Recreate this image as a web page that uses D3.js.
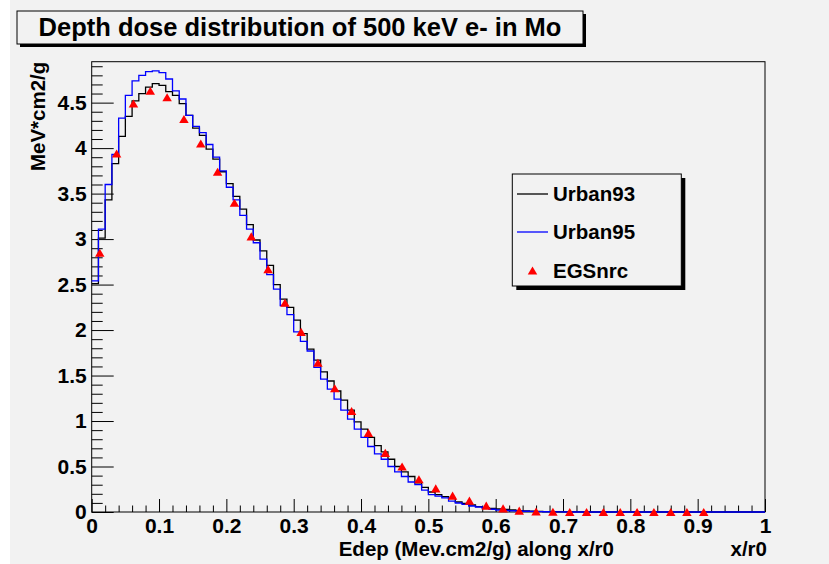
<!DOCTYPE html>
<html>
<head>
<meta charset="utf-8">
<script src="https://cdn.jsdelivr.net/npm/d3@7"></script>
<style>
  body { margin: 0; background: #ffffff; }
  svg { display: block; }
  text { font-family: "Liberation Sans", Arial, Helvetica, sans-serif; font-weight: bold; fill: #000; }
</style>
</head>
<body>
<svg id="chart" width="829" height="564"></svg>
<script>
// ---- data -------------------------------------------------------------
const chartTitle = "Depth dose distribution of 500 keV e- in Mo";
const xTitle = "Edep (Mev.cm2/g) along x/r0";
const xUnit = "x/r0";
const yTitle = "MeV*cm2/g";
const seriesNames = ["Urban93", "Urban95", "EGSnrc"];

// histogram range: 100 bins over x/r0 in [0, 1]
const xRange = [0, 1];
const nBins = 100;
const yMax = 4.95;

// Urban93 deposited energy per bin
const urban93 = [
  2.51, 3.01, 3.43, 3.83, 4.13, 4.35, 4.52, 4.60, 4.67, 4.71,
  4.69, 4.62, 4.58, 4.49, 4.36, 4.22, 4.14, 3.99, 3.88, 3.74,
  3.61, 3.47, 3.33, 3.16, 2.99, 2.87, 2.71, 2.50, 2.34, 2.25,
  2.11, 1.96, 1.79, 1.67, 1.54, 1.44, 1.33, 1.23, 1.12, 0.99,
  0.91, 0.82, 0.73, 0.66, 0.58, 0.50, 0.44, 0.39, 0.32, 0.27,
  0.22, 0.19, 0.17, 0.15, 0.11, 0.095, 0.077, 0.058, 0.047, 0.040,
  0.033, 0.028, 0.022, 0.016, 0.012, 0.009, 0.007, 0.005, 0.004, 0.003,
  0.002, 0.001, 0.001, 0, 0, 0, 0, 0, 0, 0,
  0, 0, 0, 0, 0, 0, 0, 0, 0, 0,
  0, 0, 0, 0, 0, 0, 0, 0, 0, 0
];

// Urban95 deposited energy per bin
const urban95 = [
  2.54, 3.11, 3.60, 3.93, 4.33, 4.58, 4.74, 4.80, 4.84, 4.85,
  4.83, 4.76, 4.63, 4.54, 4.36, 4.24, 4.17, 4.04, 3.90, 3.75,
  3.57, 3.43, 3.26, 3.11, 2.96, 2.78, 2.61, 2.45, 2.27, 2.17,
  1.98, 1.875, 1.77, 1.59, 1.46, 1.35, 1.24, 1.12, 1.02, 0.91,
  0.82, 0.72, 0.64, 0.58, 0.50, 0.44, 0.39, 0.33, 0.30, 0.24,
  0.19, 0.175, 0.155, 0.12, 0.099, 0.084, 0.066, 0.055, 0.040, 0.030,
  0.022, 0.018, 0.014, 0.011, 0.008, 0.006, 0.004, 0.003, 0.002, 0.001,
  0, 0, 0, 0, 0, 0, 0, 0, 0, 0,
  0, 0, 0, 0, 0, 0, 0, 0, 0, 0,
  0, 0, 0, 0, 0, 0, 0, 0, 0, 0
];

// EGSnrc reference points
const egsX = [
  0.012, 0.037, 0.062, 0.087, 0.112, 0.137, 0.162, 0.187, 0.212, 0.237,
  0.262, 0.287, 0.311, 0.336, 0.361, 0.386, 0.411, 0.436, 0.461, 0.486,
  0.511, 0.536, 0.561, 0.586, 0.611, 0.635, 0.660, 0.685, 0.710, 0.735,
  0.760, 0.785, 0.810, 0.835, 0.860, 0.884, 0.909
];
const egsY = [
  2.85, 3.94, 4.49, 4.63, 4.56, 4.32, 4.05, 3.74, 3.40, 3.03,
  2.67, 2.30, 1.98, 1.64, 1.36, 1.11, 0.87, 0.65, 0.50, 0.36,
  0.26, 0.18, 0.125, 0.07, 0.04, 0.015, 0.005, 0.002, 0, 0,
  0, 0, 0, 0, 0, 0, 0
];

// axis ticks
const xMajor = [0, 0.1, 0.2, 0.3, 0.4, 0.5, 0.6, 0.7, 0.8, 0.9, 1];
const xTickLabels = ["0", "0.1", "0.2", "0.3", "0.4", "0.5", "0.6", "0.7", "0.8", "0.9", "1"];
const yMajor = [0, 0.5, 1, 1.5, 2, 2.5, 3, 3.5, 4, 4.5];
const yTickLabels = ["0", "0.5", "1", "1.5", "2", "2.5", "3", "3.5", "4", "4.5"];

// ---- layout -----------------------------------------------------------
const frame = { left: 91.7, right: 765, top: 61.7, bottom: 512 };
const bg = "#f2f2f2";

const svg = d3.select("#chart");

// canvas pad
svg.append("rect")
  .attr("x", 10).attr("y", 0).attr("width", 819).attr("height", 564)
  .attr("fill", bg);

const x = d3.scaleLinear().domain(xRange).range([frame.left, frame.right]);
const y = d3.scaleLinear().domain([0, yMax]).range([frame.bottom, frame.top]);

// frame
svg.append("rect")
  .attr("x", frame.left).attr("y", frame.top)
  .attr("width", frame.right - frame.left).attr("height", frame.bottom - frame.top)
  .attr("fill", bg).attr("stroke", "#000").attr("stroke-width", 1);

// minor tick values
const xMinor = d3.range(0, 1.0001, 0.02).filter(v => !xMajor.some(m => Math.abs(m - v) < 1e-6));
const yMinor = d3.range(0.1, yMax, 0.1).filter(v => !yMajor.some(m => Math.abs(m - v) < 1e-6));

function styleAxis(g) {
  g.select(".domain").remove();
  g.selectAll("line").attr("stroke", "#000");
  g.selectAll("text").attr("font-size", 21).attr("fill", "#000")
    .attr("font-family", "Liberation Sans, Arial, sans-serif").attr("font-weight", "bold");
}

// x axis
svg.append("g").attr("transform", `translate(0,${frame.bottom})`)
  .call(d3.axisBottom(x).tickValues(xMinor).tickSize(-6.5).tickSizeOuter(0).tickFormat(""))
  .call(styleAxis);
svg.append("g").attr("transform", `translate(0,${frame.bottom})`)
  .call(d3.axisBottom(x).tickValues(xMajor).tickSize(-13).tickSizeOuter(0).tickPadding(6)
    .tickFormat((d, i) => xTickLabels[i]))
  .call(styleAxis);

// y axis
svg.append("g").attr("transform", `translate(${frame.left},0)`)
  .call(d3.axisLeft(y).tickValues(yMinor).tickSize(-11).tickSizeOuter(0).tickFormat(""))
  .call(styleAxis);
svg.append("g").attr("transform", `translate(${frame.left},0)`)
  .call(d3.axisLeft(y).tickValues(yMajor).tickSize(-22).tickSizeOuter(0).tickPadding(5)
    .tickFormat((d, i) => yTickLabels[i]))
  .call(styleAxis);

// axis titles
svg.append("text")
  .attr("x", 614).attr("y", 556).attr("text-anchor", "end")
  .attr("font-size", 20.5).text(xTitle);
svg.append("text")
  .attr("x", frame.right + 2).attr("y", 556).attr("text-anchor", "end")
  .attr("font-size", 20.5).text(xUnit);
svg.append("text")
  .attr("transform", `translate(45,${frame.top}) rotate(-90)`)
  .attr("text-anchor", "end").attr("font-size", 20.5).text(yTitle);

// ---- histograms -------------------------------------------------------
const binW = (xRange[1] - xRange[0]) / nBins;
function histPoints(vals) {
  const pts = vals.map((v, i) => [xRange[0] + i * binW, v]);
  pts.push([xRange[1], vals[vals.length - 1]]);
  return pts;
}
const stepLine = d3.line().x(d => x(d[0])).y(d => y(d[1])).curve(d3.curveStepAfter);

const plot = svg.append("g");
plot.append("path").datum(histPoints(urban93))
  .attr("d", stepLine).attr("fill", "none").attr("stroke", "#000").attr("stroke-width", 1.3);
plot.append("path").datum(histPoints(urban95))
  .attr("d", stepLine).attr("fill", "none").attr("stroke", "#0000ff").attr("stroke-width", 1.3);

// triangle marker centred on its bounding box
const triangle = {
  draw(ctx, size) {
    const w = Math.sqrt(size), h = w * 0.85;
    ctx.moveTo(0, -h / 2);
    ctx.lineTo(w / 2, h / 2);
    ctx.lineTo(-w / 2, h / 2);
    ctx.closePath();
  }
};
const marker = d3.symbol().type(triangle).size(90);

plot.selectAll("path.egs").data(egsX.map((v, i) => [v, egsY[i]]))
  .join("path").attr("class", "egs")
  .attr("transform", d => `translate(${x(d[0])},${y(d[1])})`)
  .attr("d", marker).attr("fill", "#ff0000");

// ---- legend -----------------------------------------------------------
const lg = { x: 512.3, y: 174, w: 169, h: 112 };
svg.append("rect").attr("x", lg.x + 4).attr("y", lg.y + 4).attr("width", lg.w).attr("height", lg.h)
  .attr("fill", "#000");
svg.append("rect").attr("x", lg.x).attr("y", lg.y).attr("width", lg.w).attr("height", lg.h)
  .attr("fill", bg).attr("stroke", "#000").attr("stroke-width", 1);

const legendRows = [
  { name: seriesNames[0], kind: "line", color: "#000", cy: 194 },
  { name: seriesNames[1], kind: "line", color: "#0000ff", cy: 232 },
  { name: seriesNames[2], kind: "marker", color: "#ff0000", cy: 270.5 }
];
legendRows.forEach(r => {
  if (r.kind === "line") {
    svg.append("line").attr("x1", 517).attr("x2", 548).attr("y1", r.cy).attr("y2", r.cy)
      .attr("stroke", r.color).attr("stroke-width", 1.3);
  } else {
    svg.append("path").attr("transform", `translate(532.5,${r.cy})`)
      .attr("d", marker).attr("fill", r.color);
  }
  svg.append("text").attr("x", 553).attr("y", r.cy + 7.3)
    .attr("font-size", 20.5).text(r.name);
});

// ---- title box --------------------------------------------------------
const tb = { x: 17, y: 11, w: 566, h: 33 };
svg.append("rect").attr("x", tb.x + 3).attr("y", tb.y + 3).attr("width", tb.w).attr("height", tb.h)
  .attr("fill", "#000");
svg.append("rect").attr("x", tb.x).attr("y", tb.y).attr("width", tb.w).attr("height", tb.h)
  .attr("fill", bg).attr("stroke", "#000").attr("stroke-width", 1);
svg.append("text").attr("x", tb.x + tb.w / 2).attr("y", tb.y + 25)
  .attr("text-anchor", "middle").attr("font-size", 25.5).text(chartTitle);
</script>
</body>
</html>
